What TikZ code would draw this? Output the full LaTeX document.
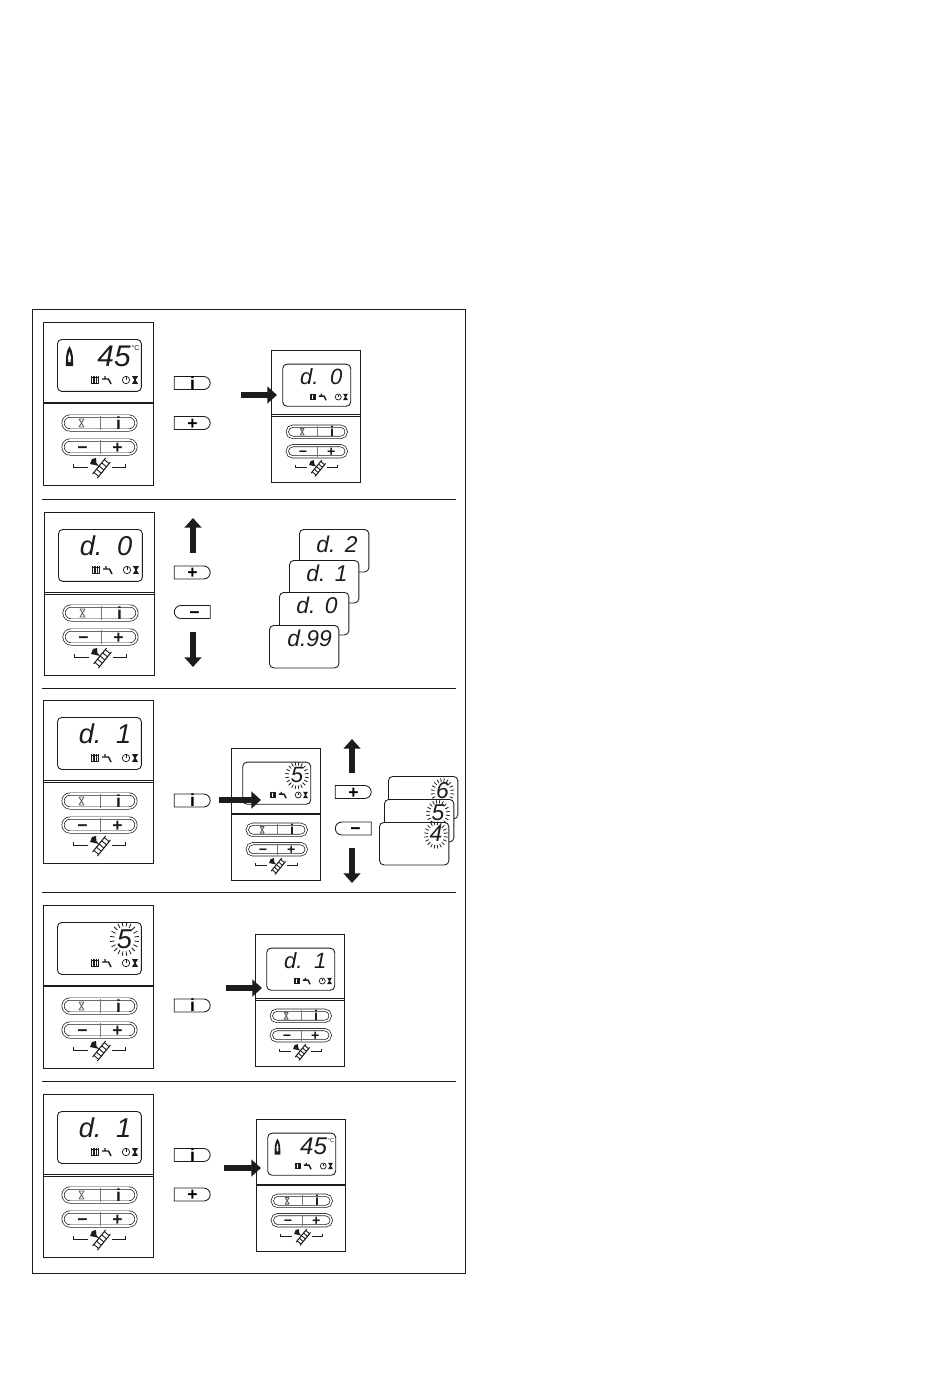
\documentclass[tikz,border=0pt]{standalone}
\usepackage{fontspec}
\usetikzlibrary{arrows.meta,shapes.misc,calc}
\newfontfamily\lcdfont{Liberation Sans}
\newfontfamily\keyfont{Liberation Sans}
\definecolor{ink}{RGB}{28,28,28}
\tikzset{
  x=0.02cm,y=0.02cm,
  panelbox/.style={draw=ink,line width=0.6pt,anchor=north west,inner sep=0,
                   minimum width=2.2cm,minimum height=3.26cm},
  lcdbox/.style={draw=ink,line width=0.5pt,anchor=north west,inner sep=0,fill=white,
                 rounded corners=2.5pt,minimum width=1.68cm,minimum height=1.04cm},
  cardbox/.style={lcdbox,minimum width=1.39cm,minimum height=0.85cm},
  btn/.style={draw=ink,line width=0.4pt,double=white,double distance=0.9pt,
              rounded rectangle,inner sep=0,minimum width=1.46cm,minimum height=0.28cm},
  keyr/.style={draw=ink,line width=0.5pt,rounded rectangle,rounded rectangle left arc=none,
               inner sep=0,minimum width=0.72cm,minimum height=0.26cm,
               text height=0.7em,text depth=0pt,font=\keyfont\bfseries\normalsize,
               execute at begin node={\hspace*{2.8pt}}},
  keyl/.style={keyr,rounded rectangle left arc=convex,rounded rectangle right arc=none,
               execute at begin node={},execute at end node={\hspace*{2.8pt}}},
  btntxt/.style={font=\keyfont\bfseries\normalsize,inner sep=0,text=ink,
                 text height=0.7em,text depth=0pt},
  lcdtxt/.style={font=\lcdfont\itshape\fontsize{15.5}{15.5}\selectfont,inner sep=0,text=ink},
  bigtxt/.style={lcdtxt,font=\lcdfont\itshape\fontsize{17}{17}\selectfont},
  cardtxt/.style={font=\lcdfont\itshape\fontsize{13}{13}\selectfont,inner sep=0,text=ink},
  bigarr/.style={ink,line width=3.1pt,-{Triangle[width=9.5pt,length=5.5pt]}},
  ray/.style={ink,line width=0.45pt},
  divline/.style={ink,line width=0.5pt}
}
% small lcd symbols
\newcommand{\hglass}[1]{\fill[ink,shift={(#1)}] (-3,3.8)--(3,3.8)--(0.6,0)--(3,-3.8)--(-3,-3.8)--(-0.6,0)--cycle;}
\newcommand{\lcdicons}{%
  \foreach \i in {48.5,50.2,...,55.5} \draw[ink,line width=0.5pt] (\i,-54)--(\i,-62);
  \draw[ink,line width=0.4pt] (48,-55)--(56,-55) (48,-61)--(56,-61);
  \draw[ink,line width=0.8pt] (59,-57)--(65.5,-57)--(68,-62) (62,-54)--(62,-57);
  \draw[ink,line width=0.4pt] (83,-58) circle (3.7);
  \draw[ink,line width=0.5pt] (83,-58)--(83,-55);
  \hglass{92,-58}
}
\newcommand{\blink}[1]{%
  \foreach \a in {9,27,...,351}
    \draw[ray,shift={(#1)}] (\a:10 and 12.5)--(\a:14.5 and 17);
}
\newcommand{\lcdD}[2]{%
  \node[lcdtxt,anchor=base west] (#1d) at (35.5,-43) {d.};
  \node[lcdtxt,anchor=base east] (#1n) at (88.5,-43) {#2};
}
\newcommand{\lcdT}[1]{%
  \fill[ink] (26.5,-24)..controls (30.5,-30) and (30,-37) .. (30,-44)--(23,-44)
    ..controls (23,-37) and (22.5,-30) .. (26.5,-24)--cycle;
  \fill[white] (26.5,-30)..controls (28,-33) and (28,-36) .. (27.5,-40)--(25.5,-40)
    ..controls (25,-36) and (25,-33) .. (26.5,-30)--cycle;
  \node[bigtxt,anchor=base east] (#1n) at (88,-44) {45};
  \node[font=\keyfont\fontsize{4}{4}\selectfont,inner sep=0,text=ink] (#1c) at (92.5,-26) {°C};
}
\newcommand{\lcdS}[1]{%
  \blink{81.5,-34}
  \node[lcdtxt,anchor=base] (#1n) at (81.5,-43) {5};
}
\newcommand{\septhick}{\draw[ink,line width=1.2pt] (0,-81)--(110,-81);}
\newcommand{\sepdouble}{\draw[ink,line width=0.4pt] (0,-80)--(110,-80) (0,-82.5)--(110,-82.5);}
% whole control unit: name, top left, scale, separator, lcd content
\newcommand{\ctrlpanel}[5]{%
\begin{scope}[shift={(#2)},scale=#3,transform shape]
  \node[panelbox] (#1) at (0,0) {};
  #4
  \node[lcdbox] (#1lcd) at (14,-17) {};
  \lcdicons
  #5
  \node[btn] (#1top) at (56.5,-101) {};
  \node[btn] (#1bot) at (56.5,-125) {};
  \draw[ink!60,line width=0.4pt] (57.5,-94)--(57.5,-108) (57.5,-118)--(57.5,-132);
  \draw[ink!70,line width=0.5pt] (36,-97)--(41,-105) (41,-97)--(36,-105) (36,-97)--(41,-97) (36,-105)--(41,-105);
  \node[btntxt] (#1i) at (75.5,-101) {i};
  \node[btntxt] (#1m) at (39.5,-125) {−};
  \node[btntxt] (#1p) at (74.5,-125) {+};
  \draw[ink,line width=0.5pt] (30,-142)--(30,-145)--(45,-145) (69,-145)--(82,-145)--(82,-142);
  \fill[ink] (47,-142)--(49,-137)--(53,-136)--(53.5,-141)--(56,-144)--(52,-143)--cycle;
  \draw[ink,line width=0.6pt] (49.6,-152)--(62.6,-136) (54.4,-156)--(67.4,-140);
  \foreach \t in {0.1,0.3,0.5,0.7,0.9}
    \draw[ink,line width=0.5pt] ($(49.6,-152)!\t!(62.6,-136)$)--($(54.4,-156)!\t!(67.4,-140)$);
\end{scope}
}
\begin{document}
\begin{tikzpicture}
  \useasboundingbox (0,0) rectangle (950,-1387);
  \node[draw=ink,line width=0.6pt,anchor=north west,inner sep=0,
        minimum width=8.66cm,minimum height=19.28cm] (frame) at (32,-309) {};
  % row rules
  \foreach \r in {499,688,892,1081}
    \draw[divline] (42,-\r)--(456,-\r);
  % row 1
  \ctrlpanel{p1}{43,-322}{1}{\septhick}{\lcdT{p1}}
  \node[keyr] (k1i) at (190,-383) {i};
  \node[keyr] (k1p) at (190,-423) {+};
  \ctrlpanel{r1}{271,-350}{0.81}{\sepdouble}{\lcdD{r1}{0}}
  \coordinate (a1s) at (241,-395); \coordinate (a1e) at (277,-395);
  \draw[bigarr] (a1s)--(a1e);
  % row 2
  \ctrlpanel{p2}{44,-512}{1}{\sepdouble}{\lcdD{p2}{0}}
  \node[keyr] (k2p) at (190,-572.5) {+};
  \node[keyl] (k2m) at (194.5,-612) {−};
  \coordinate (a2s) at (193,-553); \coordinate (a2e) at (193,-518);
  \coordinate (a3s) at (193,-632); \coordinate (a3e) at (193,-667);
  \draw[bigarr] (a2s)--(a2e);
  \draw[bigarr] (a3s)--(a3e);
  \node[cardbox] (c2) at (299,-529) {};
  \node[cardtxt,anchor=base west] (c2d) at (316,-552) {d.};
  \node[cardtxt,anchor=base east] (c2n) at (358,-552) {2};
  \node[cardbox] (c1) at (289,-560) {};
  \node[cardtxt,anchor=base west] (c1d) at (306,-581) {d.};
  \node[cardtxt,anchor=base east] (c1n) at (348,-581) {1};
  \node[cardbox] (c0) at (279,-592) {};
  \node[cardtxt,anchor=base west] (c0d) at (296,-613) {d.};
  \node[cardtxt,anchor=base east] (c0n) at (338,-613) {0};
  \node[cardbox] (c9) at (269,-625) {};
  \node[cardtxt,anchor=base west] (c9d) at (287,-646) {d.99};
  % row 3
  \ctrlpanel{p3}{43,-700}{1}{\sepdouble}{\lcdD{p3}{1}}
  \node[keyr] (k3i) at (190,-800.5) {i};
  \ctrlpanel{r3}{231,-748}{0.81}{\septhick}{\lcdS{r3}}
  \coordinate (a4s) at (219,-800); \coordinate (a4e) at (261,-800);
  \draw[bigarr] (a4s)--(a4e);
  \coordinate (a5s) at (352,-773); \coordinate (a5e) at (352,-739);
  \coordinate (a6s) at (352,-848); \coordinate (a6e) at (352,-883);
  \draw[bigarr] (a5s)--(a5e);
  \draw[bigarr] (a6s)--(a6e);
  \node[keyr] (k3p) at (351,-792) {+};
  \node[keyl] (k3m) at (355.5,-828.5) {−};
  \node[cardbox] (v6) at (388,-776) {};
  \begin{scope}[shift={(442.5,-792)},scale=0.81]\blink{0,0}\end{scope}
  \node[cardtxt,anchor=base] (v6n) at (442.5,-798) {6};
  \node[cardbox] (v5) at (384,-799) {};
  \begin{scope}[shift={(438,-813.5)},scale=0.81]\blink{0,0}\end{scope}
  \node[cardtxt,anchor=base] (v5n) at (438,-820) {5};
  \node[cardbox] (v4) at (379,-822) {};
  \begin{scope}[shift={(436,-835)},scale=0.81]\blink{0,0}\end{scope}
  \node[cardtxt,anchor=base] (v4n) at (436,-841) {4};
  % row 4
  \ctrlpanel{p4}{43,-905}{1}{\septhick}{\lcdS{p4}}
  \node[keyr] (k4i) at (190,-1005.5) {i};
  \ctrlpanel{r4}{255,-934}{0.81}{\sepdouble}{\lcdD{r4}{1}}
  \coordinate (a7s) at (226,-988); \coordinate (a7e) at (262,-988);
  \draw[bigarr] (a7s)--(a7e);
  % row 5
  \ctrlpanel{p5}{43,-1094}{1}{\sepdouble}{\lcdD{p5}{1}}
  \node[keyr] (k5i) at (190,-1155) {i};
  \node[keyr] (k5p) at (190,-1194.5) {+};
  \ctrlpanel{r5}{256,-1119}{0.81}{\septhick}{\lcdT{r5}}
  \coordinate (a8s) at (224,-1168); \coordinate (a8e) at (261,-1168);
  \draw[bigarr] (a8s)--(a8e);
\end{tikzpicture}
\end{document}
